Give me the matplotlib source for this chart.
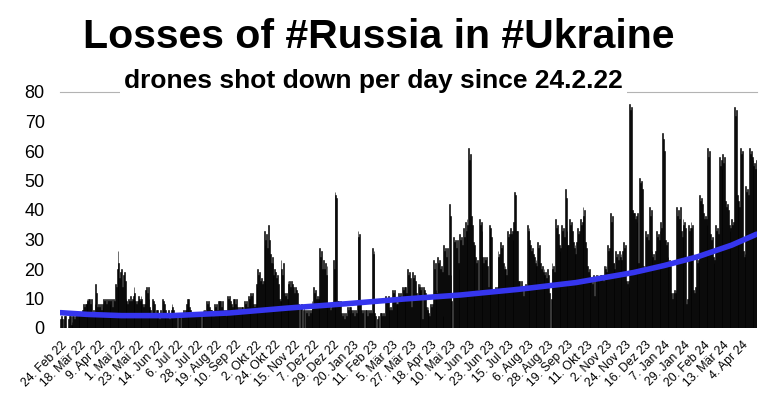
import matplotlib
matplotlib.use("Agg")
import matplotlib.pyplot as plt
import numpy as np

plt.rcParams['font.family'] = ['Liberation Sans', 'DejaVu Sans']

# drones shot down per day, starting 24.2.22
drones = [
    3, 4, 3, 0, 3, 4, 4, 0, 0, 3, 4, 4, 1, 2, 4, 4, 3, 4, 5, 4, 5, 5, 4, 5, 4,
    6, 8, 7, 8, 8, 10, 9, 10, 10, 8, 10, 5, 6, 4, 8, 15, 12, 7,
    8, 7, 8, 6, 8, 7, 10, 9, 10, 8, 10, 9, 10, 8, 9, 10, 7, 10, 9,
    15, 14, 20, 26, 22, 17, 19, 20, 14, 18, 19, 16, 10, 9, 8, 10, 9,
    11, 9, 10, 11, 14, 12, 9, 8, 9, 11, 10, 9, 11, 10, 8, 7, 8,
    13, 14, 12, 14, 10, 7, 6, 5, 10, 9, 8, 5, 6, 4, 6, 5, 3, 6, 5,
    10, 9, 8, 5, 6, 4, 5, 6, 3, 5, 6, 8, 7, 6,
    5, 4, 5, 0, 4, 5, 4, 0, 5, 4, 6, 5, 6, 8, 10, 9, 10, 7, 6,
    5, 4, 5, 4, 5, 3, 4, 5, 4, 5, 4, 0, 5, 6, 5, 6, 5, 9, 8, 9, 7, 6, 5, 6,
    5, 4, 8, 7, 8, 6, 9, 8, 9, 9, 7, 9, 6, 5, 6, 4, 6, 11, 10, 11, 9, 8, 7,
    10, 9, 10, 8, 10, 7, 6, 7, 5, 7, 6, 7, 6, 9, 8, 9, 7, 11, 10, 11,
    12, 11, 12, 8, 7, 8, 15, 14, 20, 18, 19, 16, 17, 15, 16,
    33, 28, 30, 32, 27, 35, 30, 25, 22, 24, 22, 18, 20, 19, 17, 18, 15,
    10, 9, 23, 20, 18, 22,
    12, 11, 12, 10, 16, 15, 16, 14, 16, 15, 14, 12, 14, 0, 13, 12,
    8, 0, 7, 8, 0, 6, 7, 0, 6, 5, 6, 4, 6, 5, 6, 9, 8, 14, 12, 13, 10,
    11, 10, 11, 27, 24, 26, 20, 23, 20, 22, 18, 21, 8, 7, 8, 6, 7, 8,
    23, 20, 46, 45, 44, 9, 9, 8, 9, 5, 4, 0, 5, 3, 5, 4, 7, 6, 7, 5, 7,
    6, 5, 6, 4, 6, 5, 8, 33, 31, 32, 8, 6, 5, 6, 0, 6, 5, 6, 4, 6, 5, 6, 5,
    27, 25, 26, 5, 4, 0, 3, 4, 0, 5, 4, 5, 4, 5, 4, 11, 10, 9, 11,
    7, 6, 7, 6, 13, 12, 13, 9, 8, 9, 8, 12, 11, 12, 10, 14, 13, 14, 12,
    14, 12, 20, 18, 19, 17, 7, 0, 19, 17, 18, 16, 12, 11, 15, 14, 15, 13, 14,
    3, 14, 13, 12, 7, 6, 7, 5, 4, 8, 7, 8, 23, 20, 22, 13, 12,
    24, 22, 23, 20, 21, 19, 4, 28, 26, 27, 24, 27, 18, 42, 38, 18, 9, 0,
    31, 29, 30, 27, 30, 22, 20, 32, 30, 31, 28, 34, 31, 36, 33, 37, 35,
    61, 57, 59, 38, 35, 29, 27, 28, 24, 22, 23, 13, 37, 35, 36, 33, 24, 22,
    24, 23, 24, 21, 14, 35, 33, 34, 31, 13, 12, 13, 14, 13, 14,
    26, 24, 25, 29, 27, 28, 22, 20, 21, 20, 18, 33, 31, 32, 34, 32, 33, 30,
    36, 46, 45, 33, 33, 16,
    16, 14, 0, 16, 13, 11, 13, 15, 14, 35, 33, 34, 30, 28, 26, 27, 25,
    24, 22, 23, 21, 29, 27, 28, 22, 20, 21, 19, 20, 18, 19, 17, 20, 18,
    12, 0, 10, 22, 20, 21, 19, 37, 34, 35, 32, 28, 26, 27, 35, 33, 34, 31,
    47, 44, 33, 28, 28, 37, 35, 36, 33, 29, 27, 28, 25, 29, 34, 32, 33,
    37, 35, 36, 41, 38, 40, 29, 27, 21, 19, 20, 18, 16, 17, 15, 18, 11, 16,
    18, 17, 18, 16, 17, 18, 18, 17, 16, 21, 20, 21, 19, 28, 26, 27,
    39, 36, 38, 22, 22, 20, 26, 24, 25, 23, 26, 24, 25, 23, 26, 29, 27, 28,
    16, 15, 16, 14, 76, 74, 75, 40, 39,
    39, 37, 38, 36, 39, 22, 51, 49, 50, 47, 21, 19, 20, 33, 31, 32, 30,
    41, 38, 40, 26, 24, 25, 23, 26, 33, 31, 32, 30, 33, 36, 34,
    66, 64, 60, 30, 28, 29, 24, 22, 23, 21, 12, 10, 12, 13, 12, 13,
    41, 38, 40, 37, 41, 33, 31, 37, 35, 36, 34, 8, 10, 35, 33, 34, 36, 34, 35,
    13, 12, 14, 24, 22, 23, 21, 45, 43, 44, 42, 39, 37, 38, 37, 35,
    61, 58, 60, 32, 30, 31, 24, 22, 23, 35, 33, 34, 32, 58, 55, 57, 54,
    59, 56, 58, 43, 41, 42, 40, 35, 33, 34, 37, 35, 36, 75, 72, 74, 45, 43,
    43, 41, 61, 59, 60, 26, 24, 25, 48, 46, 47, 45, 61, 59, 60, 58,
    57, 55, 56, 54, 57,
]

tick_labels = [
    '24. Feb 22', '18. Mär 22', '9. Apr 22', '1. Mai 22', '23. Mai 22', '14. Jun 22',
    '6. Jul 22', '28. Jul 22', '19. Aug 22', '10. Sep 22', '2. Okt 22', '24. Okt 22',
    '15. Nov 22', '7. Dez 22', '29. Dez 22', '20. Jan 23', '11. Feb 23', '5. Mär 23',
    '27. Mär 23', '18. Apr 23', '10. Mai 23', '1. Jun 23', '23. Jun 23', '15. Jul 23',
    '6. Aug 23', '28. Aug 23', '19. Sep 23', '11. Okt 23', '2. Nov 23', '24. Nov 23',
    '16. Dez 23', '7. Jan 24', '29. Jan 24', '20. Feb 24', '13. Mär 24', '4. Apr 24',
]
tick_step = 22

# trend line (day index, value)
trend_day = [0, 31, 69, 126, 191, 256, 322, 387, 452, 517, 582, 647, 682, 720, 758, 786]
trend_val = [5.2, 4.6, 4.2, 4.2, 5.1, 6.75, 8.2, 9.8, 11.2, 13.1, 15.4, 18.8, 21.2, 24.2, 28.1, 31.8]

fig = plt.figure(figsize=(7.69, 4.04), dpi=100)
ax = fig.add_axes([60 / 769, 76 / 404, 697 / 769, 236 / 404])

days = np.arange(len(drones))
ax.bar(days, drones, width=1.0, color='black', edgecolor='black', linewidth=0.4, zorder=2)
ax.plot(trend_day, trend_val, color='#3535ee', lw=4.0, solid_capstyle='round', zorder=3)

ax.set_xlim(-0.5, len(drones) - 0.5)
ax.set_ylim(0, 80)
ax.set_yticks(range(0, 81, 10))
ax.set_yticks([20, 40, 60], minor=True)
ax.tick_params(axis='y', which='major', length=0, labelsize=13, pad=11)
ax.tick_params(axis='y', which='minor', length=6, color='#707070', width=1)
ax.grid(axis='y', which='minor', color='#b3b3b3', lw=1, zorder=0)
ax.set_axisbelow(True)

ax.set_xticks(days[::tick_step][:len(tick_labels)])
ax.set_xticklabels(tick_labels, rotation=45, ha='right', rotation_mode='anchor', fontsize=8.8)
ax.tick_params(axis='x', length=0, pad=8)

for s in ['left', 'right', 'bottom']:
    ax.spines[s].set_visible(False)
ax.spines['top'].set_color('#b3b3b3')

fig.text(0.493, 0.909, 'Losses of #Russia in #Ukraine', ha='center', va='center',
         fontsize=29.5, fontweight='bold')
fig.text(0.486, 0.800, 'drones shot down per day since 24.2.22', ha='center', va='center',
         fontsize=19, fontweight='bold',
         bbox=dict(facecolor='white', edgecolor='none', pad=3))

fig.savefig('out.png', dpi=100)
